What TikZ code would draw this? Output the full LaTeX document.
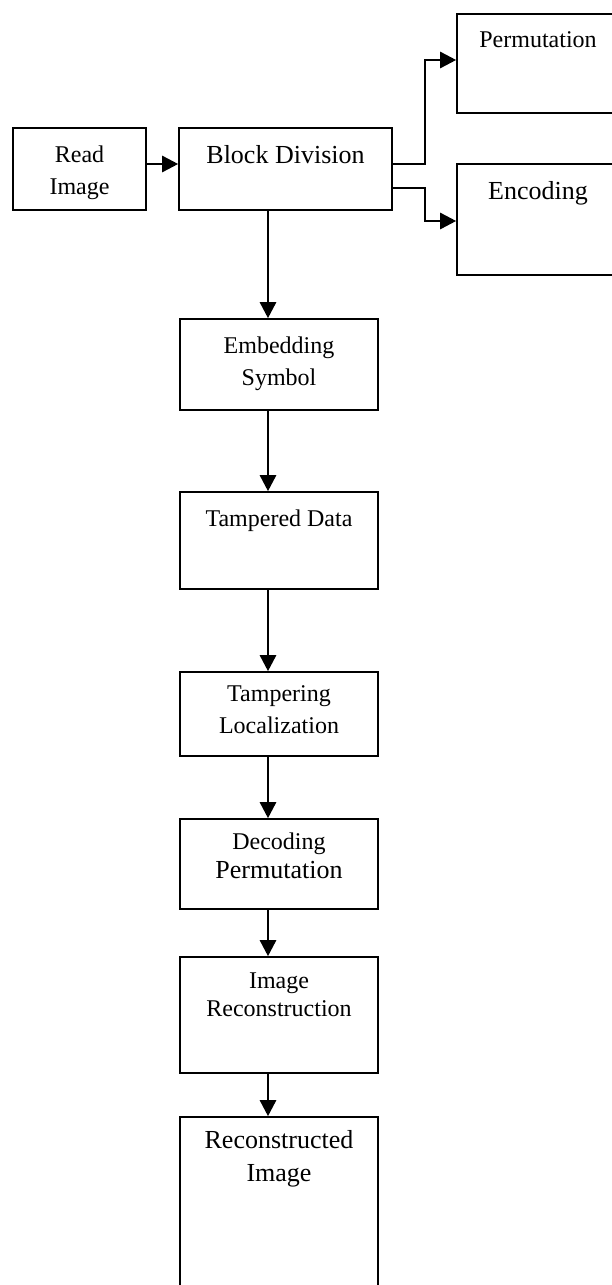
\documentclass[tikz,border=0pt]{standalone}
\usepackage{fontspec}
\setmainfont{Liberation Serif}
\usepackage{tikz}
\usetikzlibrary{arrows.meta}

\newcommand{\smallfs}{\fontsize{12}{16}\selectfont}
\newcommand{\bigfs}{\fontsize{13}{16}\selectfont}

\begin{document}
\begin{tikzpicture}[x=0.5pt,y=-0.5pt,>={Triangle[length=8pt,width=8pt]},
	box/.style={draw,line width=0.8pt,inner sep=0pt},
	lbl/.style={anchor=north,align=center,inner sep=0pt,yshift=-9pt,font=\smallfs},
	flow/.style={->,line width=1.3pt}]
	\useasboundingbox (0,0) rectangle (611,1285);
	\node[box,minimum width=66.5pt,minimum height=41pt,label={[lbl]north:Read\\Image}] (read) at (79.5,169) {};
	\node[box,minimum width=106.5pt,minimum height=41pt,label={[lbl,font=\bigfs]north:Block Division}] (block) at (285.5,169) {};
	\node[box,minimum width=81pt,minimum height=49.5pt,label={[lbl]north:Permutation}] (perm) at (538,63.5) {};
	\node[box,minimum width=81pt,minimum height=55.5pt,label={[lbl,font=\bigfs]north:Encoding}] (enc) at (538,219.5) {};
	\node[box,minimum width=99pt,minimum height=45.5pt,label={[lbl]north:Embedding\\Symbol}] (emb) at (279,364.5) {};
	\node[box,minimum width=99pt,minimum height=48.5pt,label={[lbl]north:Tampered Data}] (tamp) at (279,540.5) {};
	\node[box,minimum width=99pt,minimum height=42pt,label={[lbl,yshift=2pt]north:Tampering\\Localization}] (loc) at (279,714) {};
	\node[box,minimum width=99pt,minimum height=45pt,label={[lbl,yshift=2pt,font=\fontsize{12}{14.5}\selectfont]north:Decoding\\{\bigfs Permutation}}] (dec) at (279,864) {};
	\node[box,minimum width=99pt,minimum height=58pt,label={[lbl,yshift=1pt,font=\fontsize{12}{14}\selectfont]north:Image\\Reconstruction}] (rec) at (279,1015) {};
	\node[box,minimum width=99pt,minimum height=91.5pt,label={[lbl,yshift=2pt,font=\fontsize{13}{16.5}\selectfont]north:Reconstructed\\Image}] (out) at (279,1208.5) {};
	\coordinate (ax) at (268,0);
	\draw[flow] ([yshift=2.5pt]read.east) -- ([yshift=2.5pt]block.west);
	\draw[flow] ([yshift=2.5pt]block.east) -- ++(16pt,0) |- ([yshift=1.75pt]perm.west);
	\draw[flow] ([yshift=-9.5pt]block.east) -- ++(16pt,0) |- ([yshift=-0.75pt]enc.west);
	\draw[flow] (block.south -| ax) -- (emb.north -| ax);
	\draw[flow] (emb.south -| ax) -- (tamp.north -| ax);
	\draw[flow] (tamp.south -| ax) -- (loc.north -| ax);
	\draw[flow] (loc.south -| ax) -- (dec.north -| ax);
	\draw[flow] (dec.south -| ax) -- (rec.north -| ax);
	\draw[flow] (rec.south -| ax) -- (out.north -| ax);
\end{tikzpicture}
\end{document}
